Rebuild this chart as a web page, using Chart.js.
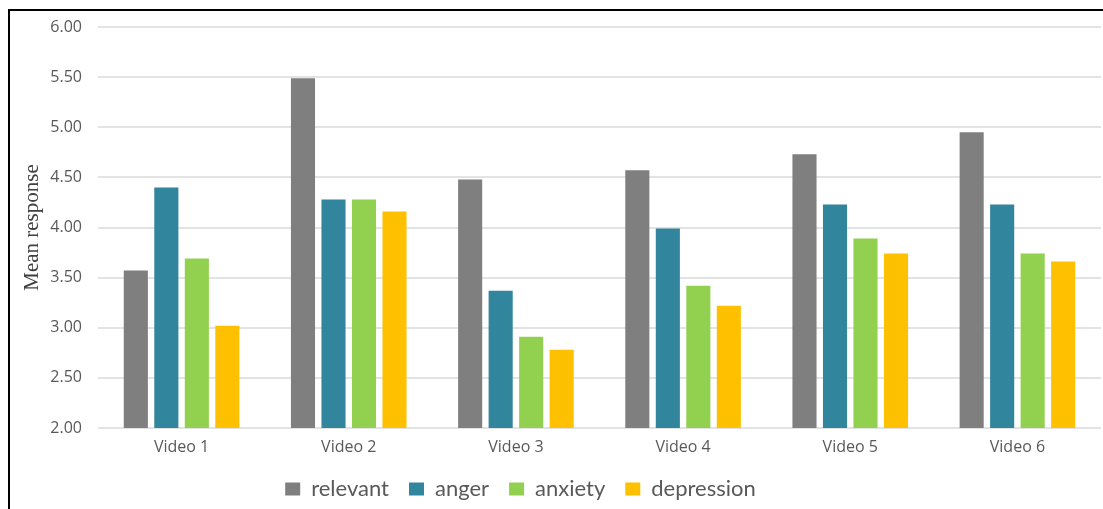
<!DOCTYPE html>
<html>
<head>
<meta charset="utf-8">
<script src="https://cdn.jsdelivr.net/npm/chart.js@4/dist/chart.umd.min.js"></script>
<style>
    html, body { margin: 0; padding: 0; background: #fff; }
    #wrap { position: relative; width: 1103px; height: 509px; }
    #frame {
        position: absolute; left: 8px; top: 9px; right: 0; bottom: 0;
        border-top: 2px solid #000; border-left: 2px solid #000;
        pointer-events: none;
    }
</style>
</head>
<body>
<div id="wrap">
    <canvas id="chart" width="1103" height="509"></canvas>
    <div id="frame"></div>
</div>
<script>
// Data
const categories = ['Video 1', 'Video 2', 'Video 3', 'Video 4', 'Video 5', 'Video 6'];
const relevant = [3.57, 5.49, 4.48, 4.57, 4.73, 4.95];
const anger = [4.40, 4.28, 3.37, 3.99, 4.23, 4.23];
const anxiety = [3.69, 4.28, 2.91, 3.42, 3.89, 3.74];
const depression = [3.02, 4.16, 2.78, 3.22, 3.74, 3.66];

const COLORS = {
    relevant: '#7f7f7f',
    anger: '#31859c',
    anxiety: '#92d050',
    depression: '#ffc000'
};

const TEXT_COLOR = '#595959';
const GRID_COLOR = '#e3e3e3';

// Nudge the legend to where the original has it
const legendShift = {
    id: 'legendShift',
    afterLayout(chart) {
        chart.legend.left -= 30;
        chart.legend.right -= 30;
    }
};

const makeSet = (label, data, color) => ({
    label,
    data,
    backgroundColor: color,
    borderWidth: 0,
    categoryPercentage: 0.73,
    barPercentage: 0.79
});

new Chart(document.getElementById('chart'), {
    type: 'bar',
    data: {
        labels: categories,
        datasets: [
            makeSet('relevant', relevant, COLORS.relevant),
            makeSet('anger', anger, COLORS.anger),
            makeSet('anxiety', anxiety, COLORS.anxiety),
            makeSet('depression', depression, COLORS.depression)
        ]
    },
    options: {
        responsive: false,
        animation: false,
        layout: { padding: { top: 27, right: 2, left: 0, bottom: 6 } },
        scales: {
            x: {
                grid: { display: false, drawTicks: false },
                border: { display: false },
                ticks: {
                    color: TEXT_COLOR,
                    font: { family: 'Open Sans', size: 16 },
                    padding: 10
                },
                afterFit(scale) { scale.height = 30; }
            },
            y: {
                min: 2,
                max: 6,
                grid: { color: GRID_COLOR, lineWidth: 2, drawTicks: false },
                border: { display: false },
                ticks: {
                    stepSize: 0.5,
                    color: TEXT_COLOR,
                    font: { family: 'Open Sans', size: 16 },
                    padding: 16,
                    callback: (v) => Number(v).toFixed(2)
                },
                title: {
                    display: true,
                    text: 'Mean response',
                    color: '#404040',
                    font: { family: 'Liberation Serif', size: 21 },
                    padding: { top: 20, bottom: 0 }
                },
                afterFit(scale) { scale.width = 98; }
            }
        },
        plugins: {
            legend: {
                position: 'bottom',
                maxHeight: 45,
                labels: {
                    color: TEXT_COLOR,
                    font: { family: 'Lato', size: 22 },
                    boxWidth: 15,
                    boxHeight: 13,
                    padding: 20
                }
            },
            tooltip: { enabled: false }
        }
    },
    plugins: [legendShift]
});
</script>
</body>
</html>
